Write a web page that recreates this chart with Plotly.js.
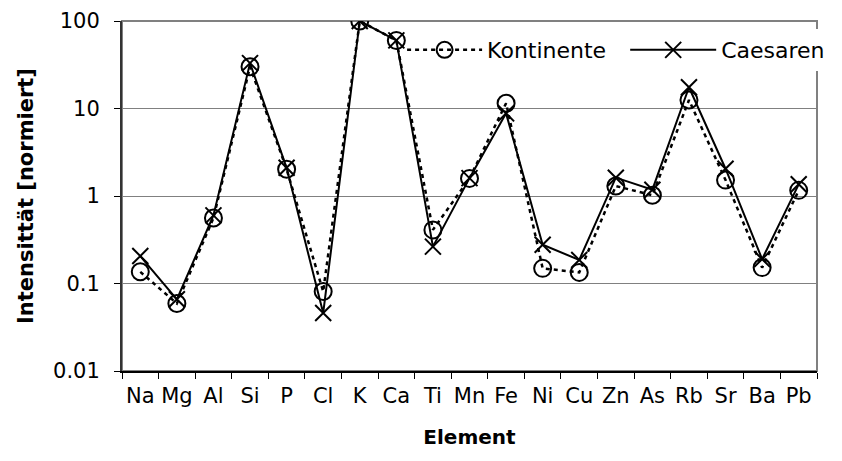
<!DOCTYPE html>
<html>
<head>
<meta charset="utf-8">
<script src="https://cdn.plot.ly/plotly-3.0.1.min.js"></script>
<style>html,body{margin:0;padding:0;background:#fff;}#chart{width:842px;height:461px;}</style>
</head>
<body>
<div id="chart"></div>
<script>
const elements = ['Na','Mg','Al','Si','P','Cl','K','Ca','Ti','Mn','Fe','Ni','Cu','Zn','As','Rb','Sr','Ba','Pb'];
const kontinente = [0.136, 0.059, 0.56, 30, 2.02, 0.081, 100, 60, 0.41, 1.59, 11.5, 0.149, 0.134, 1.3, 1.02, 12.5, 1.52, 0.152, 1.16];
const caesaren = [0.206, 0.066, 0.6, 33, 2.1, 0.046, 100, 60, 0.264, 1.6, 8.8, 0.277, 0.186, 1.62, 1.18, 17.5, 2.05, 0.19, 1.36];
const yTickVals = [0.01, 0.1, 1, 10, 100];
const yTickText = ['0.01', '0.1', '1', '10', '100'];

const FONT = 'DejaVu Sans, Liberation Sans, Arial, sans-serif';

const traces = [
  {
    x: elements, y: kontinente, name: 'Kontinente', type: 'scatter', mode: 'lines+markers',
    legend: 'legend',
    line: {color: '#000', width: 2.5, dash: '4px,4px'},
    marker: {symbol: 'circle-open', size: 17, color: '#000', line: {color: '#000', width: 2}}
  },
  {
    x: elements, y: caesaren, name: 'Caesaren', type: 'scatter', mode: 'lines+markers',
    legend: 'legend2',
    line: {color: '#000', width: 2},
    marker: {symbol: 'x-thin-open', size: 16, color: '#000', line: {color: '#000', width: 2}}
  }
];

const legendFont = {family: FONT, size: 22, color: '#000'};

const layout = {
  width: 842, height: 461,
  margin: {l: 122, r: 14, t: 21, b: 90, pad: 0},
  paper_bgcolor: '#fff', plot_bgcolor: '#fff',
  font: {family: FONT, size: 21, color: '#000'},
  showlegend: true,
  legend: {
    orientation: 'h', x: 0.403, xanchor: 'left', y: 0.917, yanchor: 'middle',
    bgcolor: 'rgba(255,255,255,0)', borderwidth: 0, font: legendFont, itemwidth: 75
  },
  legend2: {
    orientation: 'h', x: 0.724, xanchor: 'left', y: 0.917, yanchor: 'middle',
    bgcolor: '#fff', borderwidth: 0, font: legendFont, itemwidth: 86
  },
  xaxis: {
    type: 'category', range: [-0.5, 18.5], tickson: 'boundaries', ticks: 'outside', ticklen: 6, tickwidth: 1, tickcolor: '#000',
    tickangle: 0, ticklabelstandoff: 5,
    showline: true, linecolor: '#000', linewidth: 2, showgrid: false, zeroline: false,
    tickfont: {family: FONT, size: 21, color: '#000'},
    title: {text: '<b>Element</b>', font: {family: FONT, size: 20, color: '#000'}, standoff: 23},
    fixedrange: true
  },
  yaxis: {
    type: 'log', range: [-2, 2], tickvals: yTickVals, ticktext: yTickText,
    ticks: 'outside', ticklen: 6, tickwidth: 1, tickcolor: '#000', ticklabelstandoff: 10,
    showline: true, linecolor: '#333', linewidth: 2, showgrid: true, gridcolor: '#808080', gridwidth: 1,
    zeroline: false,
    tickfont: {family: FONT, size: 21, color: '#000'},
    title: {text: '<b>Intensittät [normiert]</b>', font: {family: FONT, size: 21, color: '#000'}, standoff: 14},
    fixedrange: true
  },
  shapes: [
    {type: 'rect', xref: 'paper', yref: 'paper', x0: 0, x1: 1, y0: 0, y1: 1,
     line: {color: '#808080', width: 2}, fillcolor: 'rgba(0,0,0,0)', layer: 'below'}
  ]
};

Plotly.newPlot('chart', traces, layout, {displayModeBar: false, staticPlot: true});
</script>
</body>
</html>
